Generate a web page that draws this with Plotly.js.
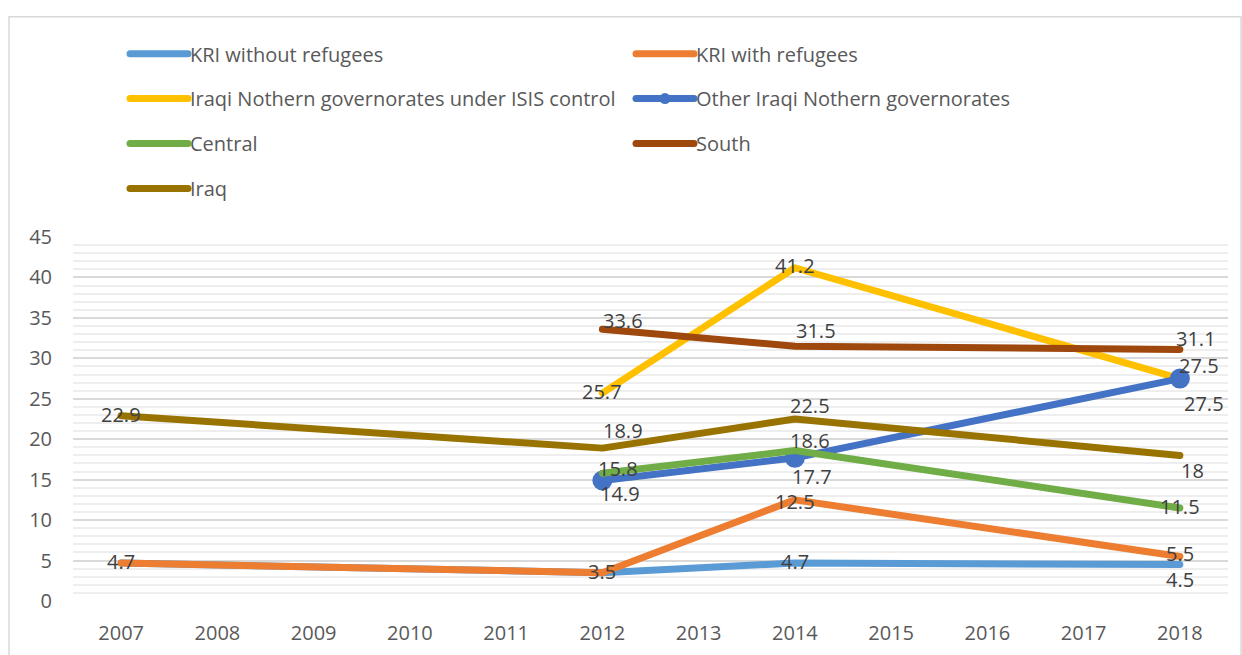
<!DOCTYPE html>
<html>
<head>
<meta charset="utf-8">
<script src="https://cdn.plot.ly/plotly-3.0.1.min.js"></script>
<style>
html,body{margin:0;padding:0;background:#fff;}
#chart{width:1242px;height:655px;}
.scatterlayer .js-line, .legendlines path{stroke-linecap:round;stroke-linejoin:round;}
.legendlines path{stroke-width:7px !important;}
</style>
</head>
<body>
<div id="chart"></div>
<script>
// ---- data ----
const seriesNames = [
  "KRI without refugees",
  "KRI with refugees",
  "Iraqi Nothern governorates under ISIS control",
  "Other Iraqi Nothern governorates",
  "Central",
  "South",
  "Iraq"
];
const kriWithoutYears = [2007, 2012, 2014, 2018];
const kriWithoutValues = [4.7, 3.5, 4.7, 4.5];
const kriWithYears = [2007, 2012, 2014, 2018];
const kriWithValues = [4.7, 3.5, 12.5, 5.5];
const isisYears = [2012, 2014, 2018];
const isisValues = [25.7, 41.2, 27.5];
const otherYears = [2012, 2014, 2018];
const otherValues = [14.9, 17.7, 27.5];
const centralYears = [2012, 2014, 2018];
const centralValues = [15.8, 18.6, 11.5];
const southYears = [2012, 2014, 2018];
const southValues = [33.6, 31.5, 31.1];
const iraqYears = [2007, 2012, 2014, 2018];
const iraqValues = [22.9, 18.9, 22.5, 18];
const xTickYears = [2007, 2008, 2009, 2010, 2011, 2012, 2013, 2014, 2015, 2016, 2017, 2018];
const yTickValues = [0, 5, 10, 15, 20, 25, 30, 35, 40, 45];

// ---- styles ----
const colors = ["#5B9BD5", "#ED7D31", "#FFC000", "#4472C4", "#70AD47", "#9E480E", "#997300"];
// label offsets in px [dx, dy(down)], null = label hidden (overlapping duplicate)
const labelOffsets = [
  [null, null, [0, 1], [0, 17]],
  [[0, 1], [0, 1], [0, 4], [0, -1]],
  [[0, 0], [0, 0], [24, 27]],
  [[18, 15], [17, 21], [19, -11]],
  [[16, -3], [15, -8], [0, 1]],
  [[21, -7], [21, -14], [16, -9]],
  [[0, 1], [21, -16], [15, -12], [13, 17]]
];
const legendOf = ["legend", "legend", "legend2", "legend2", "legend3", "legend3", "legend4"];

const X0PX = 73, XWPX = 1155, Y0PX = 601.5, YHPX = 364.8;
const px2x = px => (px - X0PX) / XWPX;
const py2y = py => (Y0PX - py) / YHPX;

const allYears = [kriWithoutYears, kriWithYears, isisYears, otherYears, centralYears, southYears, iraqYears];
const allValues = [kriWithoutValues, kriWithValues, isisValues, otherValues, centralValues, southValues, iraqValues];

const font = "'Open Sans', 'Liberation Sans', sans-serif";

const traces = allYears.map((yrs, i) => {
  const t = {
    type: "scatter",
    mode: i === 3 ? "lines+markers" : "lines",
    name: seriesNames[i],
    x: yrs,
    y: allValues[i],
    line: {color: colors[i], width: 7},
    legend: legendOf[i],
    hoverinfo: "x+y+name"
  };
  if (i === 3) t.marker = {size: 20, color: colors[i]};
  return t;
});

const annotations = [];
allYears.forEach((yrs, i) => {
  yrs.forEach((yr, j) => {
    const off = labelOffsets[i][j];
    if (!off) return;
    annotations.push({
      x: yr, y: allValues[i][j], xref: "x", yref: "y",
      text: String(allValues[i][j]),
      showarrow: false,
      xanchor: "center", yanchor: "middle",
      xshift: off[0], yshift: -off[1] + 2,
      font: {family: font, size: 20, color: "#404040"}
    });
  });
});

const legendBase = (rowPy) => ({
  orientation: "h",
  x: px2x(150), xanchor: "left",
  y: py2y(rowPy), yanchor: "middle",
  bgcolor: "rgba(0,0,0,0)",
  font: {family: font, size: 20, color: "#595959"},
  entrywidth: 461, entrywidthmode: "pixels",
  itemclick: false, itemdoubleclick: false
});

const layout = {
  width: 1242, height: 655,
  margin: {l: X0PX, r: 1242 - X0PX - XWPX, t: Y0PX - YHPX, b: 655 - Y0PX, pad: 0},
  paper_bgcolor: "#ffffff",
  plot_bgcolor: "#ffffff",
  showlegend: true,
  legend: legendBase(53),
  legend2: legendBase(98),
  legend3: legendBase(143),
  legend4: legendBase(188),
  xaxis: {
    type: "linear",
    range: [2006.5, 2018.5],
    tickvals: xTickYears,
    ticktext: xTickYears.map(String),
    showgrid: false, zeroline: false, showline: false,
    ticks: "",
    ticklabelstandoff: 18,
    tickfont: {family: font, size: 20, color: "#595959"},
    fixedrange: true
  },
  yaxis: {
    range: [0, 45],
    tickvals: yTickValues,
    showgrid: true, gridcolor: "#d9d9d9", gridwidth: 1.5,
    minor: {dtick: 1, showgrid: true, gridcolor: "#eeeeee", gridwidth: 1.5},
    zeroline: false, showline: false,
    ticks: "",
    ticklabelstandoff: 20,
    tickfont: {family: font, size: 20, color: "#595959"},
    fixedrange: true
  },
  annotations: annotations,
  shapes: [{
    type: "rect", xref: "paper", yref: "paper",
    x0: px2x(9), x1: px2x(1241), y0: py2y(16), y1: py2y(720),
    line: {color: "#d9d9d9", width: 1.5}, fillcolor: "rgba(0,0,0,0)", layer: "below"
  }]
};

function styleLegendSamples() {
  document.querySelectorAll(".scrollbox").forEach(s => s.removeAttribute("clip-path"));
  document.querySelectorAll(".infolayer > g").forEach(s => s.removeAttribute("clip-path"));
  document.querySelectorAll(".legendlines path").forEach(p => p.setAttribute("d", "M-20,0h58"));
  document.querySelectorAll(".legendpoints path.scatterpts").forEach(p => {
    p.setAttribute("d", "M5.5,0A5.5,5.5 0 1,1 0,-5.5A5.5,5.5 0 0,1 5.5,0Z");
    p.setAttribute("transform", "translate(9,0)");
  });
}

Plotly.newPlot("chart", traces, layout, {displayModeBar: false}).then(gd => {
  styleLegendSamples();
  gd.on("plotly_afterplot", styleLegendSamples);
});
</script>
</body>
</html>
